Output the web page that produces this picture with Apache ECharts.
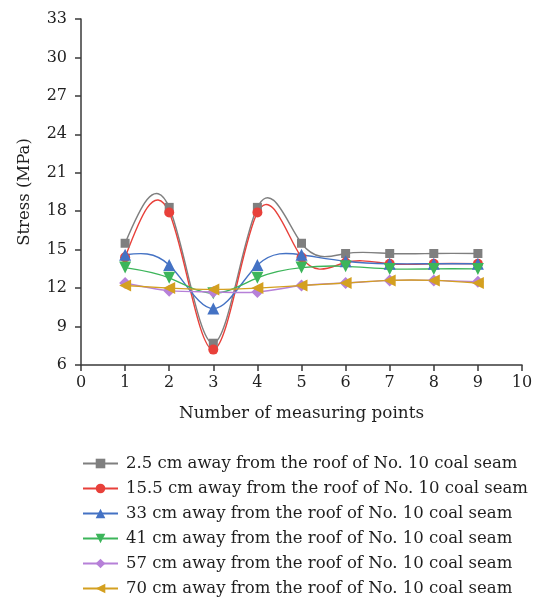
<!DOCTYPE html>
<html>
<head>
<meta charset="utf-8">
<style>
  html, body { margin: 0; padding: 0; background: #fff; }
  #chart { width: 542px; height: 601px; }
</style>
<script src="https://cdn.jsdelivr.net/npm/echarts@6/dist/echarts.min.js"></script>
</head>
<body>
<div id="chart"></div>
<script>
// Measuring point indices along the x axis
const points = [1, 2, 3, 4, 5, 6, 7, 8, 9];

// Stress (MPa) at each measuring point, by distance from the roof of No. 10 coal seam
const stress2_5 = [15.5, 18.3, 7.7, 18.3, 15.5, 14.7, 14.7, 14.7, 14.7];
const stress15_5 = [14.4, 17.9, 7.2, 17.9, 14.4, 14.0, 13.9, 13.9, 13.9];
const stress33 = [14.6, 13.8, 10.4, 13.8, 14.6, 14.1, 13.9, 13.9, 13.9];
const stress41 = [13.6, 12.8, 11.6, 12.8, 13.6, 13.7, 13.5, 13.5, 13.5];
const stress57 = [12.4, 11.8, 11.7, 11.7, 12.2, 12.4, 12.6, 12.6, 12.5];
const stress70 = [12.2, 12.0, 11.9, 12.0, 12.2, 12.4, 12.6, 12.6, 12.4];

const seriesNames = [
  '2.5 cm away from the roof of No. 10 coal seam',
  '15.5 cm away from the roof of No. 10 coal seam',
  '33 cm away from the roof of No. 10 coal seam',
  '41 cm away from the roof of No. 10 coal seam',
  '57 cm away from the roof of No. 10 coal seam',
  '70 cm away from the roof of No. 10 coal seam'
];

const yTicks = [6, 9, 12, 15, 18, 21, 24, 27, 30, 33];
const xTicks = [0, 1, 2, 3, 4, 5, 6, 7, 8, 9, 10];

const FONT = '"DejaVu Serif", "Liberation Serif", serif';
const TEXT = '#1f1f1f';
const AXIS = '#3a3a3a';

const styles = [
  { color: '#7f7f7f', symbol: 'rect', size: 9, rotate: 0 },
  { color: '#e8403a', symbol: 'circle', size: 10, rotate: 0 },
  { color: '#4472c4', symbol: 'triangle', size: 12, rotate: 0 },
  { color: '#3cb55a', symbol: 'triangle', size: 12, rotate: 180 },
  { color: '#b680d8', symbol: 'diamond', size: 12, rotate: 0 },
  { color: '#d4a020', symbol: 'triangle', size: 12, rotate: 90 }
];

const dataSets = [stress2_5, stress15_5, stress33, stress41, stress57, stress70];

// Second derivatives of a natural cubic spline through (xs, ys)
function splineMoments(xs, ys) {
  const n = xs.length;
  const M = new Array(n).fill(0);
  if (n < 3) return M;
  const a = [], b = [], c = [], d = [];
  for (let i = 1; i < n - 1; i++) {
    const h0 = xs[i] - xs[i - 1];
    const h1 = xs[i + 1] - xs[i];
    a.push(h0);
    b.push(2 * (h0 + h1));
    c.push(h1);
    d.push(6 * ((ys[i + 1] - ys[i]) / h1 - (ys[i] - ys[i - 1]) / h0));
  }
  const m = b.length;
  for (let i = 1; i < m; i++) {
    const w = a[i] / b[i - 1];
    b[i] -= w * c[i - 1];
    d[i] -= w * d[i - 1];
  }
  const sol = new Array(m);
  sol[m - 1] = d[m - 1] / b[m - 1];
  for (let i = m - 2; i >= 0; i--) sol[i] = (d[i] - c[i] * sol[i + 1]) / b[i];
  for (let i = 0; i < m; i++) M[i + 1] = sol[i];
  return M;
}

// Bezier control points (in data space) for each spline segment
function splineSegments(xs, ys) {
  const M = splineMoments(xs, ys);
  const segs = [];
  for (let k = 0; k < xs.length - 1; k++) {
    const h = xs[k + 1] - xs[k];
    const s = (ys[k + 1] - ys[k]) / h;
    const d0 = s - h * (2 * M[k] + M[k + 1]) / 6;
    const d1 = s + h * (M[k] + 2 * M[k + 1]) / 6;
    segs.push({
      p0: [xs[k], ys[k]],
      c0: [xs[k] + h / 3, ys[k] + d0 * h / 3],
      c1: [xs[k + 1] - h / 3, ys[k + 1] - d1 * h / 3],
      p1: [xs[k + 1], ys[k + 1]]
    });
  }
  return segs;
}

const curveSeries = dataSets.map((vals, i) => {
  const segs = splineSegments(points, vals);
  return {
    type: 'custom',
    id: 'curve' + i,
    silent: true,
    z: 2 + i * 0.1,
    data: points.map((p, k) => [p, vals[k]]),
    encode: { x: 0, y: 1 },
    renderItem: function (params, api) {
      const seg = segs[params.dataIndex];
      if (!seg) return null;
      const p0 = api.coord(seg.p0), c0 = api.coord(seg.c0);
      const c1 = api.coord(seg.c1), p1 = api.coord(seg.p1);
      return {
        type: 'bezierCurve',
        shape: {
          x1: p0[0], y1: p0[1], x2: p1[0], y2: p1[1],
          cpx1: c0[0], cpy1: c0[1], cpx2: c1[0], cpy2: c1[1]
        },
        style: { stroke: styles[i].color, lineWidth: 1.4, fill: null }
      };
    }
  };
});

const markerSeries = dataSets.map((vals, i) => ({
  name: seriesNames[i],
  type: 'line',
  data: points.map((p, k) => [p, vals[k]]),
  symbol: styles[i].symbol,
  symbolSize: styles[i].size,
  symbolRotate: styles[i].rotate,
  showSymbol: true,
  itemStyle: { color: styles[i].color },
  lineStyle: { color: styles[i].color, width: 1.4, opacity: 0 },
  z: 3 + i * 0.1
}));

const chart = echarts.init(document.getElementById('chart'), null, { renderer: 'canvas' });

chart.setOption({
  animation: false,
  backgroundColor: '#fff',
  textStyle: { fontFamily: FONT },
  grid: { left: 81, right: 20, top: 19, bottom: 236, containLabel: false },
  xAxis: {
    type: 'value',
    min: xTicks[0],
    max: xTicks[xTicks.length - 1],
    interval: 1,
    name: 'Number of measuring points',
    nameLocation: 'middle',
    nameGap: 40,
    nameTextStyle: { fontFamily: FONT, fontSize: 16.8, color: TEXT },
    axisLine: { lineStyle: { color: AXIS, width: 1.5 } },
    axisTick: { length: 6, lineStyle: { color: AXIS, width: 1.5 } },
    axisLabel: { fontFamily: FONT, fontSize: 16, color: TEXT, margin: 10 },
    splitLine: { show: false }
  },
  yAxis: {
    type: 'value',
    min: yTicks[0],
    max: yTicks[yTicks.length - 1],
    interval: 3,
    name: 'Stress (MPa)',
    nameLocation: 'middle',
    nameGap: 48,
    nameTextStyle: { fontFamily: FONT, fontSize: 16.5, color: TEXT },
    axisLine: { show: true, lineStyle: { color: AXIS, width: 1.5 } },
    axisTick: { show: true, length: 6, lineStyle: { color: AXIS, width: 1.5 } },
    axisLabel: { fontFamily: FONT, fontSize: 16, color: TEXT, margin: 14 },
    splitLine: { show: false }
  },
  legend: {
    orient: 'vertical',
    left: 82,
    top: 455,
    height: 146,
    padding: 0,
    itemWidth: 35,
    itemHeight: 12,
    itemGap: 8,
    lineStyle: { opacity: 1 },
    textStyle: { fontFamily: FONT, fontSize: 16.5, color: TEXT, padding: [0, 0, 0, 3] },
    data: seriesNames
  },
  series: curveSeries.concat(markerSeries)
});
</script>
</body>
</html>
